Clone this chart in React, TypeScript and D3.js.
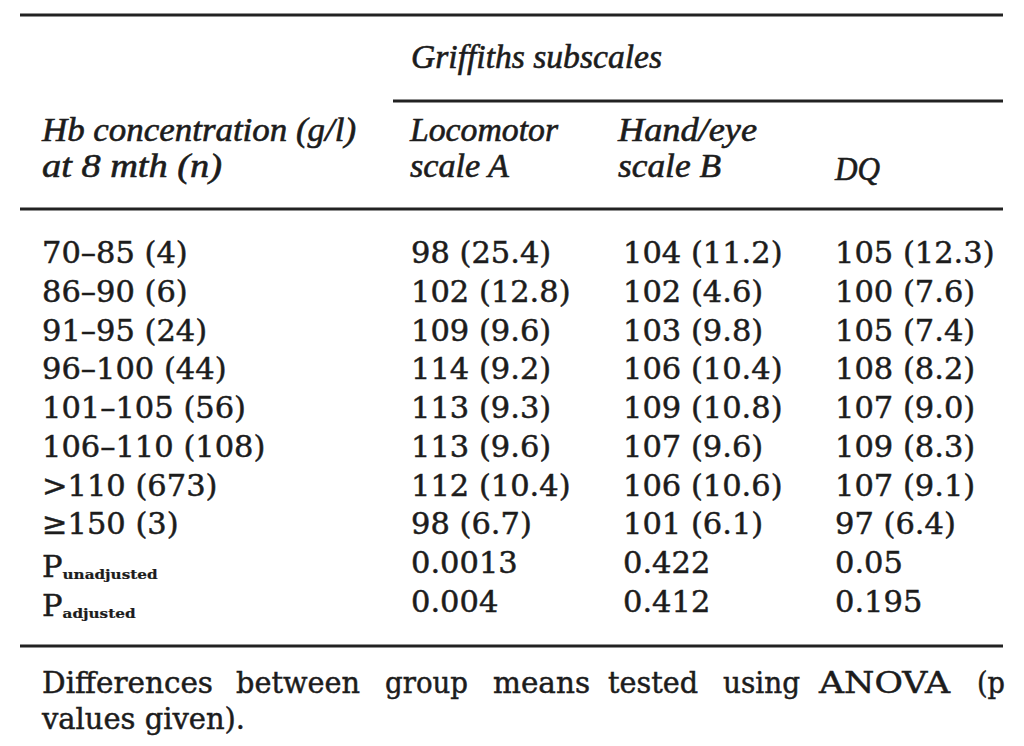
import React from "react";
import * as d3 from "d3";

// ---- data ----
const rowLabels = [
  "70–85 (4)",
  "86–90 (6)",
  "91–95 (24)",
  "96–100 (44)",
  "101–105 (56)",
  "106–110 (108)",
  ">110 (673)",
  "≥150 (3)",
];
const locomotorMean = [98, 102, 109, 114, 113, 113, 112, 98];
const locomotorSD = [25.4, 12.8, 9.6, 9.2, 9.3, 9.6, 10.4, 6.7];
const handEyeMean = [104, 102, 103, 106, 109, 107, 106, 101];
const handEyeSD = [11.2, 4.6, 9.8, 10.4, 10.8, 9.6, 10.6, 6.1];
const dqMean = [105, 100, 105, 108, 107, 109, 107, 97];
const dqSD = [12.3, 7.6, 7.4, 8.2, 9.0, 8.3, 9.1, 6.4];
const pUnadjusted = ["0.0013", "0.422", "0.05"];
const pAdjusted = ["0.004", "0.412", "0.195"];
const columnKeys = ["locomotor", "handEye", "dq"];
const footerLine1 = ["Differences", "between", "group", "means", "tested", "using", "ANOVA", "(p"];
const footerLine2 = "values given).";

const W = 1024;
const H = 746;
const ROMAN = "'DejaVu Serif', serif";
const ITALIC = "'Liberation Serif', serif";
const INK = "#1c1c1c";

export default function App() {
  const fmt = d3.format(".1f");
  const rowCount = rowLabels.length + 2;
  const y = d3
    .scalePoint<number>()
    .domain(d3.range(rowCount))
    .range([263, 612]);
  const x = d3.scalePoint<string>().domain(columnKeys).range([411, 835]);

  const cells: string[][] = rowLabels.map((_, i) => [
    `${locomotorMean[i]} (${fmt(locomotorSD[i])})`,
    `${handEyeMean[i]} (${fmt(handEyeSD[i])})`,
    `${dqMean[i]} (${fmt(dqSD[i])})`,
  ]);

  const footerX = [42, 236, 385, 493, 608, 723, 819, 977];
  const footerW = [171, 124, 83, 97, 90, 77, 131, 28];

  const rule = (x1: number, x2: number, yy: number) => (
    <line x1={x1} x2={x2} y1={yy} y2={yy} stroke="#222" strokeWidth={3} />
  );

  const hdr = (t: string, xx: number, yy: number, len: number) => (
    <text
      x={xx}
      y={yy}
      fontFamily={ITALIC}
      fontStyle="italic"
      fontSize={33}
      fill={INK}
      stroke={INK}
      strokeWidth={0.6}
      textLength={len}
      lengthAdjust="spacingAndGlyphs"
    >
      {t}
    </text>
  );

  return (
    <svg
      width={W}
      height={H}
      style={{ position: "absolute", left: 0, top: 0, background: "#fff" }}
    >
      <rect width={W} height={H} fill="#fff" />
      {rule(20, 1003, 15)}
      {hdr("Griffiths subscales", 411, 68, 251)}
      {rule(393, 1003, 101)}
      {hdr("Hb concentration (g/l)", 42, 141, 314)}
      {hdr("at 8 mth (n)", 42, 177, 180)}
      {hdr("Locomotor", 410, 141, 148)}
      {hdr("scale A", 410, 177, 99)}
      {hdr("Hand/eye", 618, 141, 139)}
      {hdr("scale B", 618, 177, 103)}
      {hdr("DQ", 835, 180, 45)}
      {rule(20, 1003, 209)}

      <g fontFamily={ROMAN} fontSize={30.5} fill={INK} stroke={INK} strokeWidth={0.5}>
        {rowLabels.map((lab, i) => (
          <text key={"l" + i} x={42} y={y(i)}>
            {lab}
          </text>
        ))}
        {cells.map((row, i) =>
          row.map((c, j) => (
            <text key={`c${i}-${j}`} x={x(columnKeys[j])} y={y(i)}>
              {c}
            </text>
          ))
        )}
        {pUnadjusted.map((p, j) => (
          <text key={"pu" + j} x={x(columnKeys[j])} y={y(rowLabels.length)}>
            {p}
          </text>
        ))}
        {pAdjusted.map((p, j) => (
          <text key={"pa" + j} x={x(columnKeys[j])} y={y(rowLabels.length + 1)}>
            {p}
          </text>
        ))}
        <text x={42} y={(y(rowLabels.length) as number) + 4}>
          P
          <tspan fontSize={12} fontWeight="bold" strokeWidth={0.2} dy={2} textLength={95} lengthAdjust="spacingAndGlyphs">
            unadjusted
          </tspan>
        </text>
        <text x={42} y={(y(rowLabels.length + 1) as number) + 4}>
          P
          <tspan fontSize={12} fontWeight="bold" strokeWidth={0.2} dy={2} textLength={73} lengthAdjust="spacingAndGlyphs">
            adjusted
          </tspan>
        </text>
      </g>

      {rule(20, 1003, 646)}
      <g fontFamily={ROMAN} fontSize={30} fill={INK} stroke={INK} strokeWidth={0.5}>
        {footerLine1.map((w, i) => (
          <text
            key={"f" + i}
            x={footerX[i]}
            y={693}
            textLength={footerW[i]}
            lengthAdjust="spacingAndGlyphs"
          >
            {w}
          </text>
        ))}
        <text x={42} y={729} textLength={203} lengthAdjust="spacingAndGlyphs">
          {footerLine2}
        </text>
      </g>
    </svg>
  );
}
